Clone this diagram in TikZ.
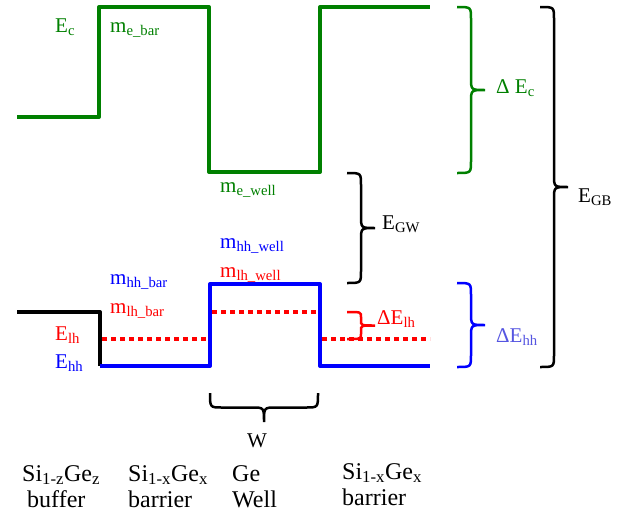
\documentclass[tikz,border=0pt]{standalone}
\usepackage{fontspec}
\setmainfont{Liberation Serif}
\newfontfamily\tnr{Liberation Serif}
\usetikzlibrary{calc}
\definecolor{bgreen}{RGB}{0,128,0}
\definecolor{bblue}{RGB}{0,0,255}
\definecolor{bred}{RGB}{255,0,0}
\definecolor{lblue}{RGB}{85,85,225}
\begin{document}
\begin{tikzpicture}[x=1pt,y=-1pt,
  band/.style={line width=4pt,line join=round},
  dotline/.style={line width=4pt,dash pattern=on 5pt off 4pt,bred},
  lbl/.style={inner sep=0pt,anchor=base west,font=\tnr\fontsize{21}{25}\selectfont},
  btm/.style={inner sep=0pt,anchor=north west,align=left,font=\tnr\fontsize{24}{26.5}\selectfont},
  bracestroke/.style={line width=2.5pt},
  vbrace/.style args={#1/#2}{to path={
    let \p1=(\tikztostart), \p2=(\tikztotarget),
        \p3=($(\tikztostart)!.5!(\tikztotarget)$) in
    (\p1) .. controls (\x1+0.5*#1pt,\y1) .. (\x1+0.5*#1pt,\y1-#2pt)
    -- (\x1+0.5*#1pt,\y3+#2pt)
    .. controls (\x1+0.5*#1pt,\y3) .. (\x1+#1pt,\y3)
    .. controls (\x1+0.5*#1pt,\y3) .. (\x1+0.5*#1pt,\y3-#2pt)
    -- (\x1+0.5*#1pt,\y2+#2pt)
    .. controls (\x1+0.5*#1pt,\y2) .. (\p2)}},
  hbrace/.style args={#1/#2}{to path={
    let \p1=(\tikztostart), \p2=(\tikztotarget),
        \p3=($(\tikztostart)!.5!(\tikztotarget)$) in
    (\p1) .. controls (\x1,\y1-0.5*#1pt) .. (\x1+#2pt,\y1-0.5*#1pt)
    -- (\x3-#2pt,\y1-0.5*#1pt)
    .. controls (\x3,\y1-0.5*#1pt) .. (\x3,\y1-#1pt)
    .. controls (\x3,\y1-0.5*#1pt) .. (\x3+#2pt,\y1-0.5*#1pt)
    -- (\x2-#2pt,\y1-0.5*#1pt)
    .. controls (\x2,\y1-0.5*#1pt) .. (\p2)}}
]
\useasboundingbox (0,0) rectangle (629,520);

% conduction band
\draw[band,bgreen] (17,117) -- (99,117) -- (99,7) -- (209,7) -- (209,172)
  -- (320,172) -- (320,7) -- (430,7);
% buffer valence band
\draw[band,black] (17,312) -- (100,312) -- (100,366);
% heavy hole band
\draw[band,bblue] (100,366) -- (210,366) -- (210,284) -- (320,284)
  -- (320,366) -- (430,366);
% light hole levels
\draw[dotline] (102,339) -- (207,339);
\draw[dotline] (212,312) -- (317,312);
\draw[dotline] (322,339) -- (430,339);

% brace end points
\coordinate (ecT) at (457,7);   \coordinate (ecB) at (457,173);
\coordinate (hhT) at (457,283); \coordinate (hhB) at (457,367);
\coordinate (gbT) at (540,7);   \coordinate (gbB) at (540,367);
\coordinate (gwT) at (347,173); \coordinate (gwB) at (347,283);
\coordinate (lhT) at (347,312); \coordinate (lhB) at (347,339);
\coordinate (wL) at (210,393);  \coordinate (wR) at (318,393);

\draw[bracestroke,bgreen] (ecT) to[vbrace=28/12] (ecB);
\draw[bracestroke,bblue] (hhT) to[vbrace=28/12] (hhB);
\draw[bracestroke,black] (gbT) to[vbrace=28/12] (gbB);
\draw[bracestroke,black] (gwT) to[vbrace=28/12] (gwB);
\draw[bracestroke,bred] (lhT) to[vbrace=28/5] (lhB);
\draw[bracestroke,black] (wL) to[hbrace=29/12] (wR);

% labels
\node[lbl,bgreen] (lEc) at (55,32) {E\textsubscript{c}};
\node[lbl,bgreen] (lmeb) at (110,32) {m\textsubscript{e\_bar}};
\node[lbl,bgreen] (lmew) at (220,192) {m\textsubscript{e\_well}};
\node[lbl,bblue] (lmhhw) at (220,248) {m\textsubscript{hh\_well}};
\node[lbl,bred] (lmlhw) at (220,277) {m\textsubscript{lh\_well}};
\node[lbl,bblue] (lmhhb) at (110,284) {m\textsubscript{hh\_bar}};
\node[lbl,bred] (lmlhb) at (110,313) {m\textsubscript{lh\_bar}};
\node[lbl,bred] (lElh) at (55,340) {E\textsubscript{lh}};
\node[lbl,bblue] (lEhh) at (55,368) {E\textsubscript{hh}};
\node[lbl,black] (lEgw) at (382,229) {E\textsubscript{GW}};
\node[lbl,bred] (ldlh) at (377,324) {ΔE\textsubscript{lh}};
\node[lbl,bgreen] (ldEc) at (496,93) {Δ E\textsubscript{c}};
\node[lbl,lblue] (ldhh) at (496,342) {ΔE\textsubscript{hh}};
\node[lbl,black] (lEgb) at (578,202) {E\textsubscript{GB}};
\node[lbl,black,anchor=base] (lW) at (257,447) {W};

% layer names
\node[btm] (s1) at (22,465) {Si\textsubscript{1-z}Ge\textsubscript{z}\\\hspace{5pt}buffer};
\node[btm] (s2) at (128,465) {Si\textsubscript{1-x}Ge\textsubscript{x}\\barrier};
\node[btm] (s3) at (232,465) {Ge\\Well};
\node[btm] (s4) at (342,463) {Si\textsubscript{1-x}Ge\textsubscript{x}\\barrier};
\end{tikzpicture}
\end{document}
